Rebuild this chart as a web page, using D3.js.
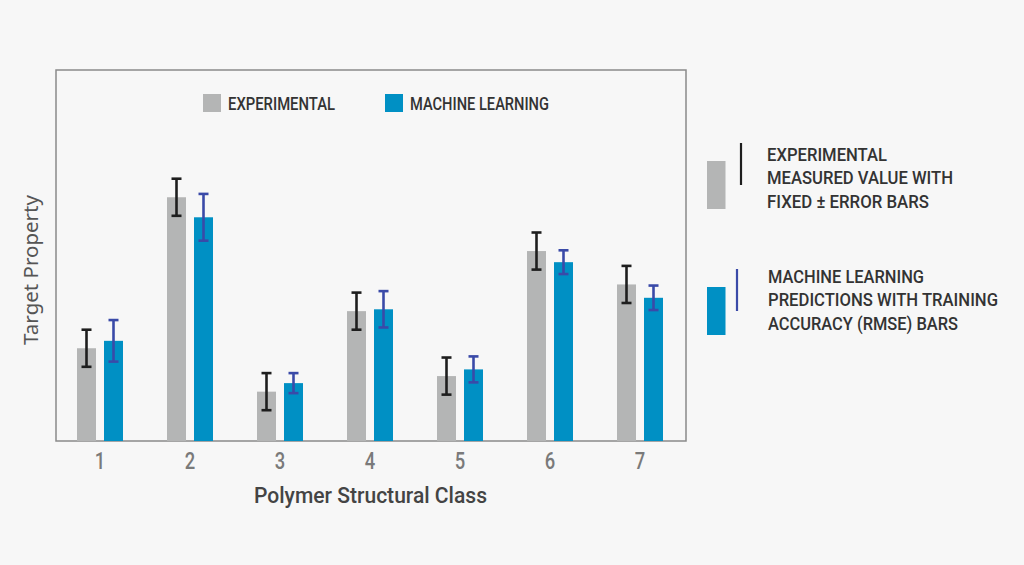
<!DOCTYPE html>
<html>
<head>
<meta charset="utf-8">
<script src="https://cdn.jsdelivr.net/npm/d3@7.9.0/dist/d3.min.js"></script>
<style>
  html, body { margin: 0; padding: 0; background: #f7f7f7; }
  svg { display: block; }
  .cond { font-family: 'Roboto', 'DejaVu Sans Condensed', sans-serif; font-weight: 500; }
</style>
</head>
<body>
<svg id="chart"></svg>
<script>
// values (arbitrary units, baseline 0)
const classes = ['1', '2', '3', '4', '5', '6', '7'];
const experimental = [2.5, 6.57, 1.33, 3.5, 1.75, 5.12, 4.22];
const experimentalError = [0.5, 0.5, 0.5, 0.5, 0.5, 0.5, 0.5];
const machineLearning = [2.7, 6.03, 1.56, 3.55, 1.93, 4.82, 3.86];
const machineLearningRmse = [0.56, 0.63, 0.27, 0.49, 0.35, 0.32, 0.33];
const yDomain = [0, 10];

const width = 1024;
const height = 565;
const margin = { top: 70, right: 338, bottom: 124, left: 56 };

const gray = '#b4b5b5';
const blue = '#0090c4';
const errBlack = '#1e1e1e';
const errBlue = '#3a4aa8';

const svg = d3.select('#chart').attr('width', width).attr('height', height);

svg.append('rect').attr('width', width).attr('height', height).attr('fill', '#f7f7f7');

const xScale = d3
  .scaleBand()
  .domain(classes)
  .range([margin.left - 1, width - margin.right - 1]);

const yScale = d3
  .scaleLinear()
  .domain(yDomain)
  .range([height - margin.bottom, margin.top]);

const barWidth = 19;
const barGap = 4; // half gap between the two bars of a class

const rows = classes.map((c, i) => ({
  cls: c,
  exp: experimental[i],
  expErr: experimentalError[i],
  ml: machineLearning[i],
  mlErr: machineLearningRmse[i],
}));

// frame
svg
  .append('rect')
  .attr('x', margin.left)
  .attr('y', margin.top)
  .attr('width', width - margin.left - margin.right)
  .attr('height', height - margin.top - margin.bottom)
  .attr('fill', 'none')
  .attr('stroke', '#8a8a8a')
  .attr('stroke-width', 1.5);

const groups = svg
  .append('g')
  .selectAll('g')
  .data(rows)
  .join('g')
  .attr('transform', (d) => `translate(${xScale(d.cls) + xScale.bandwidth() / 2}, 0)`);

// bars
groups
  .append('rect')
  .attr('x', -barGap - barWidth)
  .attr('y', (d) => yScale(d.exp))
  .attr('width', barWidth)
  .attr('height', (d) => yScale(0) - yScale(d.exp))
  .attr('fill', gray);

groups
  .append('rect')
  .attr('x', barGap)
  .attr('y', (d) => yScale(d.ml))
  .attr('width', barWidth)
  .attr('height', (d) => yScale(0) - yScale(d.ml))
  .attr('fill', blue);

// error bars
function errorBar(sel, cx, val, err, color) {
  const g = sel.append('g').attr('stroke', color).attr('stroke-width', 2.6);
  g.append('line')
    .attr('x1', cx).attr('x2', cx)
    .attr('y1', (d) => yScale(val(d) + err(d)))
    .attr('y2', (d) => yScale(val(d) - err(d)));
  g.append('line')
    .attr('x1', cx - 5).attr('x2', cx + 5)
    .attr('y1', (d) => yScale(val(d) + err(d)))
    .attr('y2', (d) => yScale(val(d) + err(d)));
  g.append('line')
    .attr('x1', cx - 5).attr('x2', cx + 5)
    .attr('y1', (d) => yScale(val(d) - err(d)))
    .attr('y2', (d) => yScale(val(d) - err(d)));
}

errorBar(groups, -barGap - barWidth / 2, (d) => d.exp, (d) => d.expErr, errBlack);
errorBar(groups, barGap + barWidth / 2, (d) => d.ml, (d) => d.mlErr, errBlue);

// x axis labels
const xAxis = d3.axisBottom(xScale).tickSize(0).tickPadding(12);
const xg = svg
  .append('g')
  .attr('transform', `translate(0, ${height - margin.bottom})`)
  .call(xAxis);
xg.select('.domain').remove();
// squeeze the digits a little, like a condensed face
xg.selectAll('.tick text')
  .attr('class', 'cond')
  .attr('font-size', 23)
  .attr('font-weight', 400)
  .attr('fill', '#7a7a7a')
  .attr('transform', 'scale(0.8, 1)');

svg
  .append('text')
  .attr('class', 'cond')
  .attr('x', 254)
  .attr('y', 503)
  .attr('font-size', 22.5)
  .attr('fill', '#444')
  .attr('textLength', 233)
  .attr('lengthAdjust', 'spacingAndGlyphs')
  .text('Polymer Structural Class');

svg
  .append('text')
  .attr('transform', 'translate(38, 270) rotate(-90)')
  .attr('text-anchor', 'middle')
  .attr('font-family', "'Noto Sans', 'Open Sans', sans-serif")
  .attr('font-size', 20.5)
  .attr('fill', '#555')
  .text('Target Property');

// top legend
const topLegend = [
  { label: 'EXPERIMENTAL', color: gray, x: 203, len: 107 },
  { label: 'MACHINE LEARNING', color: blue, x: 385, len: 139 },
];
const tl = svg.append('g').selectAll('g').data(topLegend).join('g')
  .attr('transform', (d) => `translate(${d.x}, 94)`);
tl.append('rect').attr('width', 18).attr('height', 18).attr('fill', (d) => d.color);
tl.append('text')
  .attr('class', 'cond')
  .attr('x', 25)
  .attr('y', 16)
  .attr('font-size', 17.5)
  .attr('fill', '#333')
  .attr('textLength', (d) => d.len)
  .attr('lengthAdjust', 'spacingAndGlyphs')
  .text((d) => d.label);

// right legend
const sideLegend = [
  {
    lines: ['EXPERIMENTAL', 'MEASURED VALUE WITH', 'FIXED \u00b1 ERROR BARS'],
    lens: [120, 186, 162],
    color: gray, err: errBlack, y: 148, rectY: 161, lineX: 741, lineY: 143, textX: 767,
  },
  {
    lines: ['MACHINE LEARNING', 'PREDICTIONS WITH TRAINING', 'ACCURACY (RMSE) BARS'],
    lens: [156, 230, 190],
    color: blue, err: errBlue, y: 270, rectY: 287, lineX: 737, lineY: 269, textX: 768,
  },
];
const sl = svg.append('g').selectAll('g').data(sideLegend).join('g');
sl.append('rect')
  .attr('x', 707)
  .attr('y', (d) => d.rectY)
  .attr('width', 18.5)
  .attr('height', 48)
  .attr('fill', (d) => d.color);
sl.append('line')
  .attr('x1', (d) => d.lineX).attr('x2', (d) => d.lineX)
  .attr('y1', (d) => d.lineY).attr('y2', (d) => d.lineY + 42)
  .attr('stroke', (d) => d.err)
  .attr('stroke-width', 2.2);
sl.each(function (d) {
  const g = d3.select(this);
  d.lines.forEach((line, i) => {
    g.append('text')
      .attr('class', 'cond')
      .attr('font-size', 17.8)
      .attr('fill', '#333')
      .attr('x', d.textX)
      .attr('y', d.y + 12.7 + i * 23.7)
      .attr('textLength', d.lens[i])
      .attr('lengthAdjust', 'spacingAndGlyphs')
      .text(line);
  });
});
</script>
</body>
</html>
